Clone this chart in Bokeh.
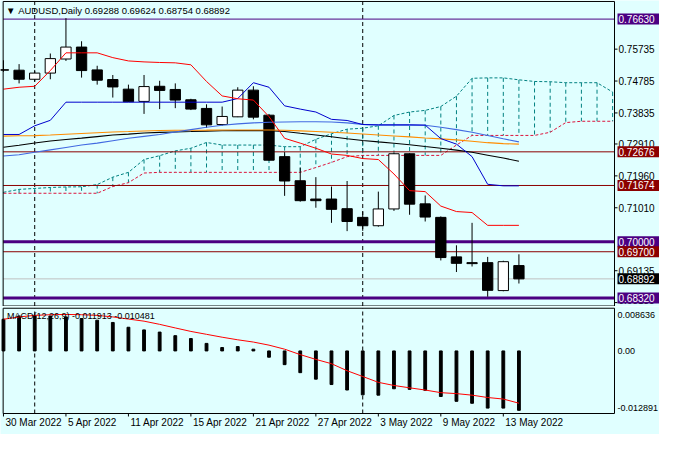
from bokeh.plotting import figure
from bokeh.models import Range1d
from bokeh.layouts import column
from bokeh.embed import file_html
from bokeh.resources import INLINE
from bokeh.core.properties import value

# ---------------- data ----------------
dates = ["30 Mar 2022", "31 Mar 2022", "1 Apr 2022", "4 Apr 2022", "5 Apr 2022", "6 Apr 2022",
         "7 Apr 2022", "8 Apr 2022", "11 Apr 2022", "12 Apr 2022", "13 Apr 2022", "14 Apr 2022",
         "15 Apr 2022", "18 Apr 2022", "19 Apr 2022", "20 Apr 2022", "21 Apr 2022", "22 Apr 2022",
         "25 Apr 2022", "26 Apr 2022", "27 Apr 2022", "28 Apr 2022", "29 Apr 2022", "2 May 2022",
         "3 May 2022", "4 May 2022", "5 May 2022", "6 May 2022", "9 May 2022", "10 May 2022",
         "11 May 2022", "12 May 2022", "13 May 2022", "16 May 2022"]
date_ticks = ["30 Mar 2022", "5 Apr 2022", "11 Apr 2022", "15 Apr 2022", "21 Apr 2022",
              "27 Apr 2022", "3 May 2022", "9 May 2022", "13 May 2022"]
separators = ["1 Apr 2022", "2 May 2022"]

opens = [0.75120, 0.75108, 0.74838, 0.75022, 0.75441, 0.75797, 0.75117, 0.74830, 0.74543, 0.74178,
         0.74629, 0.74534, 0.74227, 0.73969, 0.73489, 0.73719, 0.74514, 0.73768, 0.72533, 0.71815,
         0.71270, 0.71270, 0.70983, 0.70724, 0.70475, 0.70975, 0.72619, 0.71126, 0.70724, 0.69547,
         0.69375, 0.69375, 0.68543, 0.69288]
highs = [0.75404, 0.75289, 0.75117, 0.75605, 0.76659, 0.75970, 0.75240, 0.74965, 0.74678, 0.74965,
         0.74793, 0.74715, 0.74256, 0.74092, 0.74026, 0.74600, 0.74629, 0.73805, 0.72668, 0.72209,
         0.71922, 0.71643, 0.71807, 0.70897, 0.71491, 0.72634, 0.72634, 0.71376, 0.70753, 0.69892,
         0.70561, 0.69547, 0.69432, 0.69624]
lows = [0.75060, 0.74715, 0.74772, 0.74838, 0.75384, 0.74887, 0.74678, 0.74293, 0.74160, 0.73806,
        0.73949, 0.73977, 0.73920, 0.73386, 0.73452, 0.73710, 0.73644, 0.72418, 0.71365, 0.71192,
        0.71011, 0.70561, 0.70314, 0.70323, 0.70446, 0.70917, 0.70802, 0.70601, 0.69441, 0.69096,
        0.69260, 0.68361, 0.68522, 0.68754]
closes = [0.75110, 0.74838, 0.75022, 0.75453, 0.75797, 0.75097, 0.74810, 0.74609, 0.74169, 0.74620,
          0.74505, 0.74218, 0.73949, 0.73480, 0.73730, 0.74514, 0.73710, 0.72427, 0.71807, 0.71221,
          0.71221, 0.70963, 0.70601, 0.70475, 0.70975, 0.72619, 0.71118, 0.70733, 0.69527, 0.69355,
          0.69346, 0.68551, 0.69404, 0.68892]

tenkan = [0.74543, 0.74600, 0.74629, 0.75097, 0.75625, 0.75625, 0.75625, 0.75482, 0.75384, 0.75355,
          0.75338, 0.75327, 0.75269, 0.74772, 0.74342, 0.74256, 0.74218, 0.73725, 0.73079, 0.72935,
          0.72783, 0.72611, 0.72570, 0.72476, 0.72447, 0.72016, 0.71520, 0.71491, 0.71060, 0.70897,
          0.70868, 0.70486, 0.70486, 0.70486]
kijun = [0.73193, 0.73193, 0.73452, 0.73615, 0.74155, 0.74155, 0.74155, 0.74155, 0.74155, 0.74155,
         0.74155, 0.74155, 0.74155, 0.74155, 0.74155, 0.74264, 0.74735, 0.74600, 0.74046, 0.73949,
         0.73862, 0.73644, 0.73610, 0.73489, 0.73481, 0.73481, 0.73481, 0.73472, 0.73070, 0.72906,
         0.72533, 0.71709, 0.71663, 0.71663]
ma_blue = [0.72553, 0.72591, 0.72662, 0.72734, 0.72806, 0.72878, 0.72935, 0.73007, 0.73079, 0.73136,
           0.73193, 0.73265, 0.73337, 0.73409, 0.73466, 0.73509, 0.73538, 0.73558, 0.73567, 0.73572,
           0.73572, 0.73567, 0.73538, 0.73495, 0.73472, 0.73472, 0.73472, 0.73466, 0.73409, 0.73337,
           0.73259, 0.73165, 0.73064, 0.72972]
ma_orange = [0.73145, 0.73153, 0.73159, 0.73176, 0.73199, 0.73222, 0.73245, 0.73265, 0.73280, 0.73297,
             0.73311, 0.73317, 0.73320, 0.73323, 0.73328, 0.73328, 0.73328, 0.73328, 0.73320, 0.73300,
             0.73280, 0.73259, 0.73237, 0.73208, 0.73179, 0.73150, 0.73122, 0.73090, 0.73061, 0.73033,
             0.72992, 0.72949, 0.72921, 0.72906]
ma_black = [0.72812, 0.72872, 0.72941, 0.72998, 0.73044, 0.73084, 0.73130, 0.73176, 0.73205, 0.73239,
            0.73257, 0.73268, 0.73280, 0.73294, 0.73305, 0.73308, 0.73308, 0.73308, 0.73280, 0.73228,
            0.73179, 0.73127, 0.73064, 0.73015, 0.72972, 0.72932, 0.72889, 0.72835, 0.72783, 0.72728,
            0.72662, 0.72576, 0.72490, 0.72398]

# Ichimoku cloud (shifted 26 bars forward, visible up to bar 39)
span_a = [0.71471, 0.71557, 0.71586, 0.71614, 0.71629, 0.71635, 0.71700, 0.71922, 0.72065, 0.72447,
          0.72562, 0.72705, 0.72783, 0.72955, 0.72878, 0.72878, 0.72878, 0.72878, 0.72829, 0.72829,
          0.73050, 0.73214, 0.73351, 0.73380, 0.73452, 0.73759, 0.73862, 0.73911, 0.74026, 0.74333,
          0.74867, 0.74879, 0.74879, 0.74821, 0.74772, 0.74764, 0.74735, 0.74735, 0.74735, 0.74457]
span_b = [0.71442, 0.71442, 0.71442, 0.71442, 0.71442, 0.71442, 0.71442, 0.71643, 0.71758, 0.72045,
          0.72065, 0.72065, 0.72065, 0.72065, 0.72065, 0.72065, 0.72065, 0.72065, 0.72065, 0.72065,
          0.72209, 0.72361, 0.72533, 0.72570, 0.72570, 0.72570, 0.72570, 0.72570, 0.72570, 0.72878,
          0.73165, 0.73165, 0.73165, 0.73165, 0.73165, 0.73259, 0.73547, 0.73587, 0.73587, 0.73587]

macd_main = [0.00635, 0.00701, 0.00713, 0.00701, 0.00682, 0.00649, 0.00616, 0.00571, 0.00475, 0.00422,
             0.00378, 0.00306, 0.00248, 0.00151, 0.00068, 0.00087, 0.00035, -0.00126, -0.00275, -0.00436,
             -0.00566, -0.00674, -0.00784, -0.00881, -0.00887, -0.00759, -0.00771, -0.00790, -0.00914,
             -0.01011, -0.01050, -0.01147, -0.01147, -0.011913]
macd_signal = [0.00635, 0.00682, 0.00713, 0.00726, 0.00732, 0.00726, 0.00713, 0.00682, 0.00639, 0.00597,
               0.00533, 0.00461, 0.00391, 0.00333, 0.00275, 0.00223, 0.00178, 0.00116, 0.00035, -0.00074,
               -0.00170, -0.00256, -0.00397, -0.00513, -0.00630, -0.00693, -0.00740, -0.00784, -0.00837,
               -0.00856, -0.00887, -0.00934, -0.00965, -0.010481]

price_ticks = [0.75735, 0.74785, 0.73835, 0.72910, 0.71960, 0.71010, 0.69135, 0.68185]
level_values = [0.76630, 0.72676, 0.71674, 0.70000, 0.69700, 0.68892, 0.68320]
level_line_colors = ["#4B0082", "#8B0000", "#8B0000", "#4B0082", "#8B0000", "#C0C0C0", "#4B0082"]
level_box_colors = ["#4B0082", "#8B0000", "#8B0000", "#4B0082", "#8B0000", "#000000", "#4B0082"]
level_widths = [1, 1, 1, 3, 1, 1, 3]
macd_label_pos = [0.00721, 0.0, -0.01139]
macd_tick_labels = ["0.008636", "0.00", "-0.012891"]

# ---------------- geometry / style ----------------
BG = "#E0FFFF"
FONT = "Liberation Sans"
W = 659
xr = Range1d(-0.19, 42.0)
ppb = W / (xr.end - xr.start)          # pixels per bar
edge = 39.12                           # price-scale line (right border of panels)
left = -0.02                           # left border of panels
main_top, main_bot = 0.77155, 0.68083  # panel border levels (price panel)
macd_top, macd_bot = 0.00856, -0.01255 # panel border levels (MACD panel)

n = len(dates)
xs = list(range(n))
cloud_x = list(range(len(span_a)))
sep_x = [dates.index(d) for d in separators]


def frame_fig(height, yr):
    f = figure(width=W, height=height, x_range=xr, y_range=yr, output_backend="svg",
               toolbar_location=None, x_axis_location=None, y_axis_location=None,
               min_border=0, background_fill_color=BG, border_fill_color=BG,
               outline_line_color=None)
    f.grid.visible = False
    return f


def borders(f, top, bot):
    f.segment(x0=[left, left, left, edge], y0=[bot, top, bot, bot],
              x1=[left, edge, edge, edge], y1=[top, top, bot, top],
              line_color="black", line_width=1)


# ---------------- price panel ----------------
p = frame_fig(306, Range1d(0.68069, 0.77184))

# period separators
p.segment(x0=sep_x, y0=[main_bot] * len(sep_x), x1=sep_x, y1=[main_top] * len(sep_x),
          line_color="black", line_dash="4 3", line_width=1)

# Ichimoku cloud
p.segment(x0=cloud_x, y0=span_a, x1=cloud_x, y1=span_b, line_color="#008080",
          line_dash="4 3", line_width=1)
p.line(cloud_x, span_a, line_color="#008080", line_dash="3 2", line_width=1)
p.line(cloud_x, span_b, line_color="#DC143C", line_dash="3 2", line_width=1)

# horizontal levels
p.segment(x0=[left] * len(level_values), y0=level_values, x1=[edge] * len(level_values),
          y1=level_values, line_color=level_line_colors, line_width=level_widths)

# candles
body_top = [max(o, c) for o, c in zip(opens, closes)]
body_bot = [min(o, c) for o, c in zip(opens, closes)]
fills = ["white" if c > o else "black" for o, c in zip(opens, closes)]
p.segment(x0=xs, y0=lows, x1=xs, y1=highs, line_color="black", line_width=1)
p.vbar(x=xs, top=body_top, bottom=body_bot, width=0.66, fill_color=fills,
       line_color="black", line_width=1)

# indicator lines
p.line(xs, ma_black, line_color="black", line_width=1.1)
p.line(xs, ma_orange, line_color="#FF8C00", line_width=1.1)
p.line(xs, ma_blue, line_color="#4169E1", line_width=1.1)
p.line(xs, kijun, line_color="#0000CD", line_width=1)
p.line(xs, tenkan, line_color="#FF0000", line_width=1)

borders(p, main_top, main_bot)

# price scale: ticks and labels (lowest label nudged up so it stays inside the figure)
p.segment(x0=[edge] * len(price_ticks), y0=price_ticks,
          x1=[edge + 3 / ppb] * len(price_ticks), y1=price_ticks, line_color="black")
tick_nudge = [0] * (len(price_ticks) - 1) + [-3]
p.text(x=[edge] * len(price_ticks), y=price_ticks, text=[f"{t:.5f}" for t in price_ticks],
       x_offset=4, y_offset=tick_nudge, text_align="left", text_baseline="middle",
       text_color="black", text_font=value(FONT), text_font_size="10px")

# level boxes on the price scale
p.rect(x=[edge + 24 / ppb] * len(level_values), y=level_values, width=42, height=11,
       width_units="screen", height_units="screen", fill_color=level_box_colors,
       line_color=None)
p.text(x=[edge] * len(level_values), y=level_values, text=[f"{v:.5f}" for v in level_values],
       x_offset=4, text_align="left", text_baseline="middle", text_color="white",
       text_font=value(FONT), text_font_size="10px")

# title
title = f"AUDUSD,Daily  {opens[-1]:.5f} {highs[-1]:.5f} {lows[-1]:.5f} {closes[-1]:.5f}"
p.text(x=[0.36, 0.94], y=[0.76897, 0.76897], text=["\u25bc", title],
       text_align="left", text_baseline="middle", text_color="black",
       text_font=value(FONT), text_font_size="9.5px", x_offset=[-3, 0])

# ---------------- MACD panel ----------------
m = frame_fig(128, Range1d(-0.01676, 0.00891))

m.segment(x0=sep_x, y0=[macd_bot] * len(sep_x), x1=sep_x, y1=[macd_top] * len(sep_x),
          line_color="black", line_dash="4 3", line_width=1)
m.vbar(x=xs, top=macd_main, bottom=0, width=0.18, fill_color="black", line_color="black")
m.line(xs, macd_signal, line_color="#FF0000", line_width=1)
borders(m, macd_top, macd_bot)

m.text(x=[0.22], y=[0.00707],
       text=[f"MACD(12,26,9) {macd_main[-1]:.6f} {macd_signal[-1]:.6f}"],
       text_align="left", text_baseline="middle", text_color="black",
       text_font=value(FONT), text_font_size="9px")

# MACD scale labels
m.text(x=[edge] * len(macd_label_pos), y=macd_label_pos, text=macd_tick_labels,
       x_offset=3, text_align="left", text_baseline="middle", text_color="black",
       text_font=value(FONT), text_font_size="9px")

# date axis
tick_idx = [dates.index(d) for d in date_ticks]
m.segment(x0=tick_idx, y0=[macd_bot] * len(tick_idx), x1=tick_idx,
          y1=[macd_bot - 0.0006] * len(tick_idx), line_color="black")
m.text(x=tick_idx, y=[-0.01443] * len(tick_idx), text=date_ticks, x_offset=2,
       text_align="left", text_baseline="middle", text_color="black",
       text_font=value(FONT), text_font_size="10px")

layout = column(p, m, spacing=0)
open("out.html", "w").write(file_html(layout, INLINE))
